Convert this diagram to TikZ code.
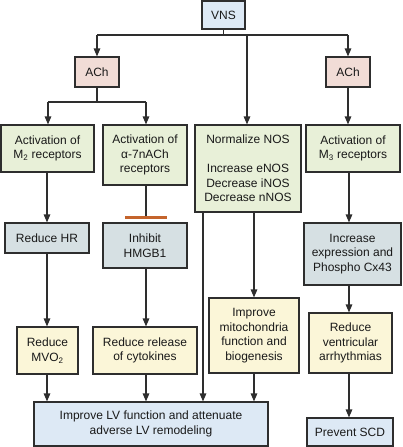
\documentclass[tikz,border=0pt]{standalone}
\usepackage{fontspec}
\setmainfont{Liberation Sans}
\usetikzlibrary{arrows.meta}
\definecolor{cblue}{HTML}{DDE9F5}
\definecolor{cpink}{HTML}{F1DCD6}
\definecolor{cgreen}{HTML}{E8F0D8}
\definecolor{cgray}{HTML}{D6E0E3}
\definecolor{cyellow}{HTML}{FBF6D8}
\definecolor{cline}{HTML}{2E2E2E}
\definecolor{cinh}{HTML}{C4642C}
\tikzset{
  box/.style={draw=cline, line width=1.1pt, align=center, inner sep=0pt,
    font={\fontsize{12}{14.6}\selectfont}, text=black!90},
  arr/.style={draw=cline, line width=1.2pt, -{Triangle[length=8pt,width=6.5pt]}},
  ln/.style={draw=cline, line width=1.2pt},
}
\begin{document}
\begin{tikzpicture}[x=1pt,y=-1pt]
\useasboundingbox (0,0) rectangle (402,447);
% row 0
\node[box, fill=cblue, minimum width=43pt, minimum height=28pt] (vns) at (223.5,15) {VNS};
\node[box, fill=cpink, minimum width=44pt, minimum height=30pt] (achl) at (97,72) {ACh};
\node[box, fill=cpink, minimum width=44pt, minimum height=30pt] (achr) at (348,72) {ACh};
% row 1
\node[box, fill=cgreen, minimum width=93pt, minimum height=47pt] (m2) at (47.5,148.5) {Activation of\\M\textsubscript{2} receptors};
\node[box, fill=cgreen, minimum width=84pt, minimum height=60pt] (a7) at (145,155) {Activation of\\α-7nACh\\receptors};
\node[box, fill=cgreen, minimum width=106pt, minimum height=87pt] (nos) at (248,168.5) {Normalize NOS\\[14.6pt]Increase eNOS\\Decrease iNOS\\Decrease nNOS};
\node[box, fill=cgreen, minimum width=94pt, minimum height=47pt] (m3) at (353,148.5) {Activation of\\M\textsubscript{3} receptors};
% row 2
\node[box, fill=cgray, minimum width=84pt, minimum height=30pt] (hr) at (47,238) {Reduce HR};
\node[box, fill=cgray, minimum width=84pt, minimum height=45pt] (hmg) at (145,245.5) {Inhibit\\HMGB1};
\node[box, fill=cgray, minimum width=97pt, minimum height=62pt] (cx) at (352.5,254) {Increase\\expression and\\Phospho Cx43};
% row 3
\node[box, fill=cyellow, minimum width=61pt, minimum height=47pt] (mvo) at (47.5,350.5) {Reduce\\MVO\textsubscript{2}};
\node[box, fill=cyellow, minimum width=104pt, minimum height=47pt] (cyt) at (145,350.5) {Reduce release\\of cytokines};
\node[box, fill=cyellow, minimum width=90pt, minimum height=75pt] (mito) at (254,335.5) {Improve\\mitochondria\\function and\\biogenesis};
\node[box, fill=cyellow, minimum width=83pt, minimum height=60pt] (vent) at (350.5,343) {Reduce\\ventricular\\arrhythmias};
% row 4
\node[box, fill=cblue, minimum width=234pt, minimum height=44pt] (lv) at (151,424) {Improve LV function and attenuate\\adverse LV remodeling};
\node[box, fill=cblue, minimum width=86pt, minimum height=28pt] (scd) at (350,432) {Prevent SCD};
% connectors
\coordinate (j0) at (223.5,35);
\coordinate (jl) at (97,35);
\coordinate (jr) at (348,35);
\coordinate (jc) at (247,35);
\draw[ln] (vns.south) -- (j0);
\draw[ln] (jl) -- (jr);
\draw[arr] (jl) -- (achl.north);
\draw[arr] (jr) -- (achr.north);
\draw[arr] (jc) -- (jc |- nos.north);
\coordinate (k0) at (97,102);
\coordinate (k1) at (48,102);
\coordinate (k2) at (146,102);
\draw[ln] (achl.south) -- (k0);
\draw[ln] (k1) -- (k2);
\draw[arr] (k1) -- (k1 |- m2.north);
\draw[arr] (k2) -- (k2 |- a7.north);
\draw[arr] (achr.south) -- (achr.south |- m3.north);
\coordinate (c1) at (47,172);
\draw[arr] (c1) -- (c1 |- hr.north);
\draw[arr] (hr.south) -- (hr.south |- mvo.north);
\draw[arr] (hr.south |- mvo.south) -- (hr.south |- lv.north);
\coordinate (inh) at (146,217.5);
\draw[ln] (a7.south -| inh) -- (inh);
\draw[cinh, line width=3pt] ([xshift=-21pt]inh) -- ([xshift=21pt]inh);
\draw[arr] (hmg.south -| inh) -- (cyt.north -| inh);
\draw[arr] (cyt.south -| inh) -- (lv.north -| inh);
\coordinate (nl) at (203,212);
\draw[arr] (nl) -- (nl |- lv.north);
\draw[arr] (nos.south -| mito.north) -- (mito.north);
\draw[arr] (mito.south) -- (mito.south |- lv.north);
\coordinate (r0) at (349,172);
\draw[arr] (r0) -- (r0 |- cx.north);
\coordinate (r1) at (349,285);
\draw[arr] (r1) -- (r1 |- vent.north);
\coordinate (r2) at (349,373);
\draw[arr] (r2) -- (r2 |- scd.north);
\end{tikzpicture}
\end{document}
